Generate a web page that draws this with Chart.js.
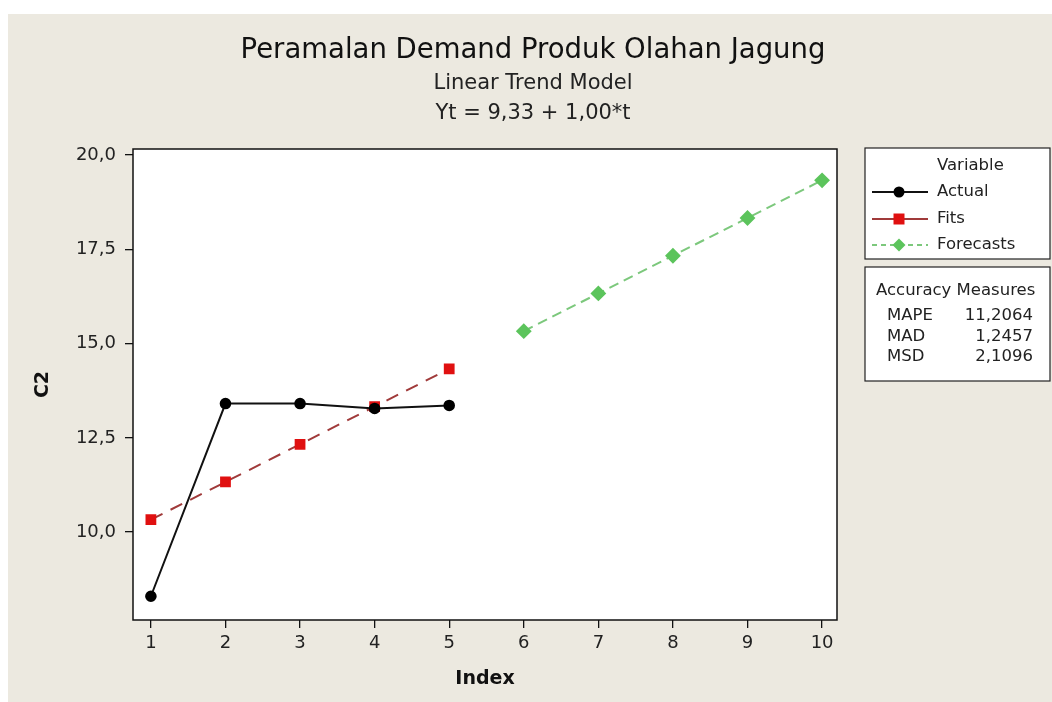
<!DOCTYPE html>
<html>
<head>
<meta charset="utf-8">
<script src="https://cdn.jsdelivr.net/npm/chart.js@4.4.1/dist/chart.umd.min.js"></script>
<style>
  html, body { margin: 0; padding: 0; background: #ffffff; }
  #wrap { width: 1052px; height: 702px; }
</style>
</head>
<body>
<div id="wrap"><canvas id="chart" width="1052" height="702"></canvas></div>
<script>
// data
const actualIndex = [1, 2, 3, 4, 5];
const actualValues = [8.3, 13.41, 13.41, 13.28, 13.36];
const fitsValues = [10.33, 11.33, 12.33, 13.33, 14.33];
const forecastIndex = [6, 7, 8, 9, 10];
const forecastValues = [15.33, 16.33, 17.33, 18.33, 19.33];
const xTicks = [1, 2, 3, 4, 5, 6, 7, 8, 9, 10];
const yTicks = [10, 12.5, 15, 17.5, 20];
const titleLines = ['Peramalan Demand Produk Olahan Jagung', 'Linear Trend Model', 'Yt = 9,33 + 1,00*t'];
const accuracyLabels = ['MAPE', 'MAD', 'MSD'];
const accuracyValues = ['11,2064', '1,2457', '2,1096'];

const FONT = '"DejaVu Sans", Tahoma, sans-serif';
const BG = '#ece9e0';
const comma = v => v.toFixed(1).replace('.', ',');
const pts = (xs, ys) => xs.map((x, i) => ({ x: x, y: ys[i] }));

// marker for the legend samples
function drawMarker(ctx, style, x, y, r, color) {
  ctx.fillStyle = color;
  ctx.beginPath();
  if (style === 'circle') {
    ctx.arc(x, y, r, 0, Math.PI * 2);
  } else if (style === 'rect') {
    ctx.rect(x - r, y - r, r * 2, r * 2);
  } else {
    ctx.moveTo(x, y - r - 1); ctx.lineTo(x + r + 1, y); ctx.lineTo(x, y + r + 1); ctx.lineTo(x - r - 1, y);
    ctx.closePath();
  }
  ctx.fill();
}

const legendDash = [[], [], [5, 4]];

// background, frame, titles and the two boxes on the right
const minitabBits = {
  id: 'minitabBits',
  beforeDraw(chart) {
    const { ctx, chartArea: a } = chart;
    ctx.save();
    ctx.fillStyle = BG;
    ctx.fillRect(8, 14, chart.width - 8, chart.height - 14);
    ctx.fillStyle = '#ffffff';
    ctx.fillRect(a.left, a.top, a.right - a.left, a.bottom - a.top);
    ctx.restore();
  },
  afterDatasetsDraw(chart) {
    const { ctx, chartArea: a } = chart;
    ctx.save();
    ctx.strokeStyle = '#111';
    ctx.lineWidth = 1.5;
    ctx.strokeRect(a.left, a.top, a.right - a.left, a.bottom - a.top);

    // titles
    const cx = 533;
    ctx.fillStyle = '#111';
    ctx.textAlign = 'center';
    ctx.textBaseline = 'alphabetic';
    ctx.font = '27.5px ' + FONT;
    ctx.fillText(titleLines[0], cx, 58);
    ctx.font = '21px ' + FONT;
    ctx.fillStyle = '#222';
    ctx.fillText(titleLines[1], cx, 89);
    ctx.fillText(titleLines[2], cx, 119);

    // variable legend box
    const bx = 865, bw = 185;
    ctx.fillStyle = '#ffffff';
    ctx.fillRect(bx, 148, bw, 111);
    ctx.strokeStyle = '#222';
    ctx.lineWidth = 1.2;
    ctx.strokeRect(bx, 148, bw, 111);
    ctx.fillStyle = '#222';
    ctx.font = '16.5px ' + FONT;
    ctx.textAlign = 'left';
    ctx.textBaseline = 'middle';
    ctx.fillText('Variable', 937, 166);
    const rows = [192, 219, 245];
    chart.data.datasets.forEach((ds, i) => {
      const y = rows[i];
      ctx.save();
      ctx.strokeStyle = ds.borderColor;
      ctx.lineWidth = ds.borderWidth;
      ctx.setLineDash(legendDash[i]);
      ctx.beginPath();
      ctx.moveTo(872, y); ctx.lineTo(928, y);
      ctx.stroke();
      ctx.restore();
      drawMarker(ctx, ds.pointStyle, 899, y, 5.5, ds.pointBackgroundColor);
      ctx.fillStyle = '#222';
      ctx.fillText(ds.label, 937, y);
    });

    // accuracy box
    ctx.fillStyle = '#ffffff';
    ctx.fillRect(bx, 267, bw, 114);
    ctx.strokeRect(bx, 267, bw, 114);
    ctx.fillStyle = '#222';
    ctx.fillText('Accuracy Measures', 876, 291);
    const ay = [316, 337, 357];
    accuracyLabels.forEach((lab, i) => {
      ctx.textAlign = 'left';
      ctx.fillText(lab, 887, ay[i]);
      ctx.textAlign = 'right';
      ctx.fillText(accuracyValues[i], 1033, ay[i]);
    });
    ctx.restore();
  }
};

new Chart(document.getElementById('chart'), {
  type: 'line',
  data: {
    datasets: [
      {
        label: 'Actual',
        data: pts(actualIndex, actualValues),
        borderColor: '#111111',
        borderWidth: 2,
        pointStyle: 'circle',
        pointRadius: 4.8,
        pointBackgroundColor: '#000000',
        pointBorderColor: '#000000',
        tension: 0
      },
      {
        label: 'Fits',
        data: pts(actualIndex, fitsValues),
        borderColor: '#a03a3a',
        borderWidth: 2,
        borderDash: [13, 9],
        pointStyle: 'rect',
        pointRadius: 6.2,
        pointBackgroundColor: '#e01010',
        pointBorderColor: '#e01010',
        tension: 0
      },
      {
        label: 'Forecasts',
        data: pts(forecastIndex, forecastValues),
        borderColor: '#7cc87c',
        borderWidth: 2,
        borderDash: [10, 6],
        pointStyle: 'rectRot',
        pointRadius: 6.5,
        pointBackgroundColor: '#5cc45c',
        pointBorderColor: '#5cc45c',
        tension: 0
      }
    ]
  },
  options: {
    responsive: false,
    animation: false,
    layout: { padding: { top: 149, right: 215, left: 0, bottom: 0 } },
    plugins: { legend: { display: false }, tooltip: { enabled: false }, title: { display: false } },
    scales: {
      x: {
        type: 'linear',
        min: 0.76,
        max: 10.2,
        afterBuildTicks: axis => { axis.ticks = xTicks.map(v => ({ value: v })); },
        afterFit: axis => { axis.height = 82; },
        grid: { drawOnChartArea: false, drawTicks: true, tickLength: 8, color: '#111', lineWidth: 1.3 },
        border: { display: false },
        ticks: { color: '#222', font: { family: FONT, size: 18 }, padding: 5, maxRotation: 0 },
        title: { display: true, text: 'Index', color: '#111', font: { family: FONT, size: 19, weight: 'bold' }, padding: { top: 0, bottom: 12 } }
      },
      y: {
        type: 'linear',
        min: 7.67,
        max: 20.16,
        afterBuildTicks: axis => { axis.ticks = yTicks.map(v => ({ value: v })); },
        afterFit: axis => { axis.width = 133; },
        grid: { drawOnChartArea: false, drawTicks: true, tickLength: 8, color: '#111', lineWidth: 1.3 },
        border: { display: false },
        ticks: { color: '#222', font: { family: FONT, size: 18 }, padding: 9, callback: v => comma(v) },
        title: { display: true, text: 'C2', color: '#111', font: { family: FONT, size: 19, weight: 'bold' }, padding: { top: 32, bottom: 0 } }
      }
    }
  },
  plugins: [minitabBits]
});
</script>
</body>
</html>
